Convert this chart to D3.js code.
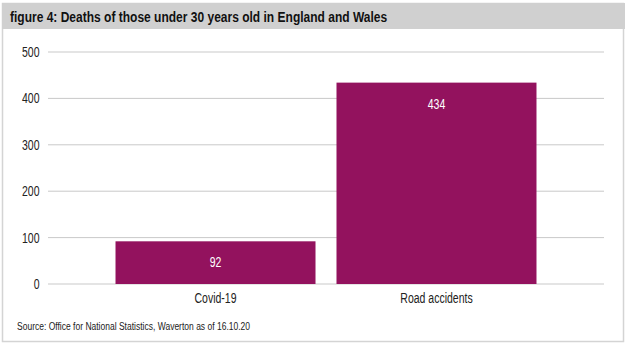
<!DOCTYPE html>
<html><head><meta charset="utf-8">
<script src="https://cdn.jsdelivr.net/npm/d3@7"></script>
<style>
body{margin:0;background:#fff;}
text{font-family:"Liberation Sans","Arial",sans-serif;}
</style></head>
<body><svg id="c" width="628" height="346"></svg>
<script>
const categories = ["Covid-19", "Road accidents"];
const values = [92, 434];
const yTicks = [0, 100, 200, 300, 400, 500];
const title = "figure 4: Deaths of those under 30 years old in England and Wales";
const source = "Source: Office for National Statistics, Waverton as of 16.10.20";

const svg = d3.select("#c");
function txt(parent, cls, data, xf, yf, tf, size, fill, anchor, weight, sx) {
  const s = sx || 0.75;
  return parent.selectAll("text." + cls).data(data).join("text").attr("class", cls)
    .attr("transform", (d, i) => `translate(${xf(d, i)},${yf(d, i)}) scale(${s},1)`)
    .attr("text-anchor", anchor).attr("font-size", size).attr("fill", fill)
    .attr("font-weight", weight || "normal").text(tf);
}

// outer frame
svg.append("rect").attr("x",2.5).attr("y",3.5).attr("width",621).attr("height",338)
  .attr("fill","#fff").attr("stroke","#d4d4d4").attr("stroke-width",1.5);
svg.append("rect").attr("x",2).attr("y",3).attr("width",623).attr("height",26).attr("fill","#d0d0d0");
txt(svg, "title", [title], () => 10, () => 21.5, d => d, 15.5, "#111", "start", "bold", 0.775);

const y = d3.scaleLinear().domain([0,500]).range([284,52]);
const x = d3.scaleBand().domain(categories).range([48,604]).paddingInner(0.095).paddingOuter(0.3055);

const g = svg.append("g");
g.selectAll("line.grid").data(yTicks).join("line").attr("class","grid")
  .attr("x1",48).attr("x2",604).attr("y1",d=>y(d)).attr("y2",d=>y(d))
  .attr("stroke","#c9c9c9").attr("stroke-width",1);
txt(g, "yt", yTicks, () => 39.5, d => y(d) + 5, d => d, 14, "#222", "end");

g.selectAll("rect.bar").data(values).join("rect").attr("class","bar")
  .attr("x",(d,i)=>x(categories[i])).attr("width",x.bandwidth())
  .attr("y",d=>y(d)).attr("height",d=>y(0)-y(d)).attr("fill","#93125e");
txt(g, "lbl", values, (d, i) => x(categories[i]) + x.bandwidth()/2, d => y(d) + 26, d => d, 14, "#fff", "middle");

txt(g, "xt", categories, d => x(d) + x.bandwidth()/2, () => 303, d => d, 14, "#222", "middle");

txt(svg, "src", [source], () => 17, () => 330, d => d, 11.5, "#222", "start", "normal", 0.74);
</script></body></html>
